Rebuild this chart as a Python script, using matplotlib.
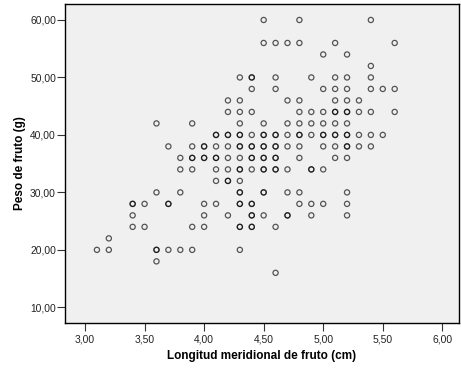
import matplotlib
matplotlib.use("Agg")
import matplotlib.pyplot as plt
from matplotlib.ticker import FuncFormatter

# fruit length (cm) observed at each fruit weight (g)
WEIGHTS = [60, 56, 54, 52, 50, 48, 46, 44, 42, 40, 38, 36, 34, 32, 30, 28,
           26, 24, 22, 20, 18, 16]
LENGTHS = [
    [4.5, 4.8, 5.4],
    [4.5, 4.6, 4.7, 4.8, 5.1, 5.6],
    [5.0, 5.2],
    [5.4],
    [4.3, 4.4, 4.6, 4.9, 5.1, 5.2, 5.4],
    [4.4, 4.6, 5.0, 5.1, 5.2, 5.4, 5.5, 5.6],
    [4.2, 4.3, 4.7, 4.8, 5.1, 5.2, 5.3],
    [4.2, 4.3, 4.4, 4.8, 4.9, 5.0, 5.1, 5.2, 5.3, 5.4, 5.6],
    [3.6, 3.9, 4.3, 4.5, 4.7, 4.8, 4.9, 5.0, 5.1, 5.2],
    [4.1, 4.2, 4.3, 4.4, 4.5, 4.6, 4.7, 4.8, 4.9, 5.0, 5.1, 5.2, 5.3, 5.4, 5.5],
    [3.7, 3.9, 4.0, 4.1, 4.2, 4.3, 4.4, 4.5, 4.6, 4.7, 4.8, 5.0, 5.1, 5.2,
     5.3, 5.4],
    [3.8, 3.9, 4.0, 4.1, 4.2, 4.3, 4.4, 4.5, 4.6, 4.8, 5.1, 5.2],
    [3.8, 3.9, 4.1, 4.2, 4.3, 4.4, 4.5, 4.6, 4.7, 4.9, 5.0],
    [4.1, 4.2, 4.3],
    [3.6, 3.8, 4.3, 4.5, 4.7, 4.8, 5.2],
    [3.4, 3.5, 3.7, 4.0, 4.1, 4.3, 4.4, 4.8, 4.9, 5.0, 5.2],
    [3.4, 4.0, 4.2, 4.4, 4.5, 4.7, 4.9, 5.2],
    [3.4, 3.5, 3.9, 4.0, 4.3, 4.4, 4.6],
    [3.2],
    [3.1, 3.2, 3.6, 3.7, 3.8, 3.9, 4.3],
    [3.6],
    [4.6],
]

# cases that fall on the same spot as another one (drawn again, so they look heavier)
REPEATS = [
    (4.4, 50), (5.1, 44), (5.2, 44), (4.1, 40), (4.2, 40), (4.3, 40),
    (4.5, 40), (4.6, 40), (4.8, 40), (5.0, 40), (5.1, 40), (5.2, 40),
    (4.0, 38), (4.3, 38), (4.4, 38), (4.5, 38), (4.6, 38), (5.2, 38),
    (3.9, 36), (4.0, 36), (4.1, 36), (4.4, 36), (4.5, 36), (4.6, 36),
    (4.3, 34), (4.5, 34), (4.6, 34), (4.9, 34), (4.2, 32), (4.3, 30),
    (4.5, 30), (3.4, 28), (3.7, 28), (4.3, 28), (4.4, 28), (4.4, 26),
    (4.7, 26), (4.3, 24), (4.4, 24), (3.6, 20),
]

xs = [x for w, row in zip(WEIGHTS, LENGTHS) for x in row]
ys = [w for w, row in zip(WEIGHTS, LENGTHS) for _ in row]
xs += [p[0] for p in REPEATS]
ys += [p[1] for p in REPEATS]

plt.rcParams["font.family"] = ["Liberation Sans", "DejaVu Sans"]

fig = plt.figure(figsize=(4.61, 3.72), dpi=100)
ax = fig.add_axes([65 / 461, 1 - 322.5 / 372, 394 / 461, 318.5 / 372])
ax.set_facecolor("#f0f0f0")

ax.scatter(xs, ys, s=14, facecolors="none", edgecolors="black",
           linewidths=0.9, alpha=0.65, zorder=3)

ax.set_xlim(2.832, 6.14)
ax.set_ylim(7.36, 62.78)
ax.set_xticks([3.0, 3.5, 4.0, 4.5, 5.0, 5.5, 6.0])
ax.set_yticks([10, 20, 30, 40, 50, 60])

comma = FuncFormatter(lambda v, pos: f"{v:.2f}".replace(".", ","))
ax.xaxis.set_major_formatter(comma)
ax.yaxis.set_major_formatter(comma)
ax.tick_params(direction="out", length=5.5, width=0.8, labelsize=7.4,
               pad=1, color="#333333", labelcolor="#222222")
ax.tick_params(axis="x", pad=3)

for side in ["top", "right", "left", "bottom"]:
    ax.spines[side].set_linewidth(1.0)
    ax.spines[side].set_color("black")

ax.set_xlabel("Longitud meridional de fruto (cm)", fontsize=8.5,
              fontweight="bold", labelpad=4)
ax.set_ylabel("Peso de fruto (g)", fontsize=8.5, fontweight="bold",
              labelpad=3)

fig.savefig("out.png", dpi=100)
